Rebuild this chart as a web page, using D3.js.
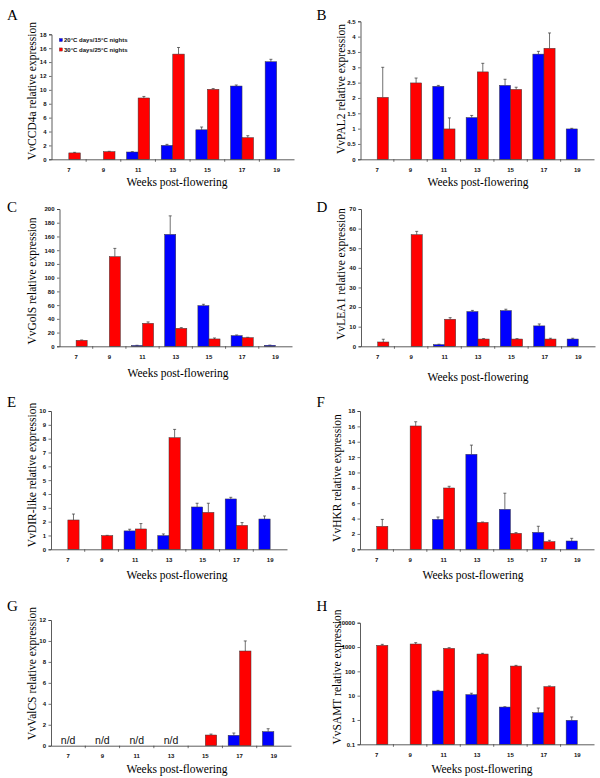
<!DOCTYPE html>
<html>
<head>
<meta charset="utf-8">
<script src="https://cdn.jsdelivr.net/npm/d3@7"></script>
<style>
  html, body { margin: 0; padding: 0; background: #fff; }
  svg { display: block; }
</style>
</head>
<body>
<div id="chart"></div>
<script>
// ---------------- DATA ----------------
const weeks = ["7", "9", "11", "13", "15", "17", "19"];
const seriesNames = ["20°C days/15°C nights", "30°C days/25°C nights"];
const seriesKeys = ["cool", "warm"];

// A: VvCCD4a
const ccd4aCool    = [null, null, 1.05, 2.0, 4.25, 10.55, 14.05];
const ccd4aCoolErr = [0, 0, 0.05, 0.15, 0.4, 0.15, 0.35];
const ccd4aWarm    = [0.92, 1.1, 8.83, 15.15, 10.08, 3.12, null];
const ccd4aWarmErr = [0.08, 0.05, 0.22, 0.95, 0.1, 0.28, 0];
const ccd4aTicks   = [0, 2, 4, 6, 8, 10, 12, 14, 16, 18];

// B: VvPAL2
const pal2Cool    = [null, null, 2.38, 1.36, 2.41, 3.43, 0.99];
const pal2CoolErr = [0, 0, 0.03, 0.07, 0.2, 0.09, 0.02];
const pal2Warm    = [2.02, 2.49, 0.99, 2.85, 2.28, 3.62, null];
const pal2WarmErr = [0.98, 0.16, 0.36, 0.28, 0.07, 0.5, 0];
const pal2Ticks   = [0, 0.5, 1, 1.5, 2, 2.5, 3, 3.5, 4, 4.5];

// C: VvGolS
const golsCool    = [null, null, 1.2, 163, 59.2, 15.5, 1.5];
const golsCoolErr = [0, 0, 0.3, 27, 2, 1, 0.3];
const golsWarm    = [8.7, 130.6, 33.5, 26.2, 10.7, 12.6, null];
const golsWarmErr = [0.5, 12, 2, 1, 1.4, 0.5, 0];
const golsTicks   = [0, 20, 40, 60, 80, 100, 120, 140, 160, 180, 200];

// D: VvLEA1
const lea1Cool    = [null, null, 0.85, 17.7, 18.2, 10.4, 3.7];
const lea1CoolErr = [0, 0, 0.2, 0.6, 0.7, 1.0, 0.4];
const lea1Warm    = [2.2, 56.9, 13.8, 3.7, 3.7, 3.7, null];
const lea1WarmErr = [1.4, 1.7, 0.8, 0.2, 0.2, 0.4, 0];
const lea1Ticks   = [0, 10, 20, 30, 40, 50, 60, 70];

// E: VvDIR-like
const dirCool    = [null, null, 1.33, 0.99, 3.06, 3.64, 2.19];
const dirCoolErr = [0, 0, 0.12, 0.12, 0.27, 0.12, 0.22];
const dirWarm    = [2.12, 0.99, 1.47, 8.07, 2.67, 1.73, null];
const dirWarmErr = [0.43, 0.02, 0.39, 0.6, 0.66, 0.2, 0];
const dirTicks   = [0, 1, 2, 3, 4, 5, 6, 7, 8, 9, 10];

// F: VvHKR
const hkrCool    = [null, null, 3.9, 12.36, 5.2, 2.2, 1.08];
const hkrCoolErr = [0, 0, 0.3, 1.2, 2.1, 0.8, 0.35];
const hkrWarm    = [2.99, 16.05, 7.98, 3.5, 2.08, 1.0, null];
const hkrWarmErr = [0.9, 0.55, 0.22, 0.05, 0.09, 0.17, 0];
const hkrTicks   = [0, 2, 4, 6, 8, 10, 12, 14, 16, 18];

// G: VvValCS
const valcsCool    = [null, null, null, null, null, 0.99, 1.34];
const valcsCoolErr = [0, 0, 0, 0, 0, 0.22, 0.28];
const valcsWarm    = [null, null, null, null, 1.02, 9.04, null];
const valcsWarmErr = [0, 0, 0, 0, 0.09, 0.96, 0];
const valcsTicks   = [0, 2, 4, 6, 8, 10, 12];
const valcsNotDetected = ["7", "9", "11", "13"];

// H: VvSAMT (log scale)
const samtCool    = [null, null, 15.5, 11, 3.4, 2.0, 0.97];
const samtCoolErr = [0, 0, 1, 1.6, 0.1, 1.1, 0.36];
const samtWarm    = [1170, 1330, 880, 515, 165, 23.5, null];
const samtWarmErr = [120, 180, 60, 35, 11, 1.5, 0];
const samtTicks   = [0.1, 1, 10, 100, 1000, 10000];

const panels = [
  { letter: "A", title: "VvCCD4a relative expression", cool: ccd4aCool, coolErr: ccd4aCoolErr, warm: ccd4aWarm, warmErr: ccd4aWarmErr, ticks: ccd4aTicks, legend: true },
  { letter: "B", title: "VvPAL2 relative expression", cool: pal2Cool, coolErr: pal2CoolErr, warm: pal2Warm, warmErr: pal2WarmErr, ticks: pal2Ticks },
  { letter: "C", title: "VvGolS relative expression", cool: golsCool, coolErr: golsCoolErr, warm: golsWarm, warmErr: golsWarmErr, ticks: golsTicks },
  { letter: "D", title: "VvLEA1 relative expression", cool: lea1Cool, coolErr: lea1CoolErr, warm: lea1Warm, warmErr: lea1WarmErr, ticks: lea1Ticks },
  { letter: "E", title: "VvDIR-like relative expression", cool: dirCool, coolErr: dirCoolErr, warm: dirWarm, warmErr: dirWarmErr, ticks: dirTicks },
  { letter: "F", title: "VvHKR relative expression", cool: hkrCool, coolErr: hkrCoolErr, warm: hkrWarm, warmErr: hkrWarmErr, ticks: hkrTicks },
  { letter: "G", title: "VvValCS relative expression", cool: valcsCool, coolErr: valcsCoolErr, warm: valcsWarm, warmErr: valcsWarmErr, ticks: valcsTicks, nd: valcsNotDetected },
  { letter: "H", title: "VvSAMT relative expression", cool: samtCool, coolErr: samtCoolErr, warm: samtWarm, warmErr: samtWarmErr, ticks: samtTicks, log: true }
];

// ---------------- LAYOUT ----------------
const layout = {
  A: { left: 51.5, right: 294, y0: 159.3, yTop: 34.3, letterX: 7, letterY: 20, titleX: 32.3, titleY: 91, xTitleX: 177, xTitleY: 186 },
  B: { left: 360.5, right: 594, y0: 159.3, yTop: 21.3, letterX: 316.5, letterY: 20, titleX: 340.7, titleY: 89, xTitleX: 478, xTitleY: 186 },
  C: { left: 59.5, right: 292, y0: 346.3, yTop: 209, letterX: 7, letterY: 211.7, titleX: 32.3, titleY: 281, xTitleX: 178, xTitleY: 377 },
  D: { left: 361, right: 595, y0: 346.3, yTop: 209, letterX: 316.5, letterY: 211.7, titleX: 340.7, titleY: 274, xTitleX: 478, xTitleY: 381 },
  E: { left: 51, right: 287, y0: 549.3, yTop: 411, letterX: 7, letterY: 406.7, titleX: 32.3, titleY: 475, xTitleX: 177, xTitleY: 579 },
  F: { left: 360, right: 594, y0: 549.3, yTop: 411, letterX: 316.5, letterY: 406.7, titleX: 337.3, titleY: 478, xTitleX: 473, xTitleY: 579 },
  G: { left: 51, right: 291, y0: 745.7, yTop: 620, letterX: 7, letterY: 611, titleX: 32.3, titleY: 673.5, xTitleX: 177, xTitleY: 773 },
  H: { left: 360, right: 594, y0: 744.3, yTop: 622.7, letterX: 316.5, letterY: 611, titleX: 336.7, titleY: 677, xTitleX: 482, xTitleY: 773 }
};

const colors = { cool: "#0000ff", warm: "#ff0000" };
const tickFont = "'Liberation Sans', Arial, sans-serif";
const serifFont = "'Liberation Serif', 'Times New Roman', serif";

// ---------------- DRAW ----------------
const W = 600, H = 778;
const svg = d3.select("#chart").append("svg").attr("width", W).attr("height", H);
svg.append("rect").attr("width", W).attr("height", H).attr("fill", "#fff");

panels.forEach(p => {
  const L = layout[p.letter];
  const g = svg.append("g");

  const x = d3.scaleBand().domain(weeks).range([L.left, L.right]);
  const xs = d3.scaleBand().domain(seriesKeys).range([0, x.bandwidth()]).paddingOuter(0.5);
  const y = p.log
    ? d3.scaleLog().domain([d3.min(p.ticks), d3.max(p.ticks)]).range([L.y0, L.yTop])
    : d3.scaleLinear().domain([0, d3.max(p.ticks)]).range([L.y0, L.yTop]);
  const base = p.log ? d3.min(p.ticks) : 0;

  seriesKeys.forEach(k => {
    const vals = p[k], errs = p[k + "Err"];
    const data = weeks.map((w, i) => ({ w, v: vals[i], e: errs[i] })).filter(d => d.v != null);

    // error bars (upper only)
    const eg = g.append("g").attr("stroke", "#333").attr("stroke-width", 0.7);
    const withErr = data.filter(d => d.e > 0);
    eg.selectAll("line.v").data(withErr).join("line")
      .attr("x1", d => x(d.w) + xs(k) + xs.bandwidth() / 2)
      .attr("x2", d => x(d.w) + xs(k) + xs.bandwidth() / 2)
      .attr("y1", d => y(d.v))
      .attr("y2", d => y(d.v + d.e));
    eg.selectAll("line.c").data(withErr).join("line")
      .attr("x1", d => x(d.w) + xs(k) + xs.bandwidth() / 2 - 1.5)
      .attr("x2", d => x(d.w) + xs(k) + xs.bandwidth() / 2 + 1.5)
      .attr("y1", d => y(d.v + d.e))
      .attr("y2", d => y(d.v + d.e));

    g.append("g").selectAll("rect").data(data).join("rect")
      .attr("x", d => x(d.w) + xs(k))
      .attr("width", xs.bandwidth())
      .attr("y", d => y(d.v))
      .attr("height", d => Math.max(0, y(base) - y(d.v)))
      .attr("fill", colors[k])
      .attr("stroke", "#3a3a3a")
      .attr("stroke-width", 0.5);
  });

  // y axis
  const fmt = p.log ? (d => String(d)) : d3.format("~g");
  const ya = g.append("g").attr("transform", `translate(${L.left},0)`)
    .call(d3.axisLeft(y).tickValues(p.ticks).tickSize(2.5).tickPadding(2.5).tickFormat(fmt));
  ya.select(".domain").attr("stroke", "#333").attr("stroke-width", 0.8);
  ya.selectAll(".tick line").attr("stroke", "#333").attr("stroke-width", 0.7);
  ya.selectAll("text").attr("font-family", tickFont).attr("font-size", 6).attr("font-weight", "bold").attr("fill", "#111");

  // x axis
  const xa = g.append("g").attr("transform", `translate(0,${L.y0})`)
    .call(d3.axisBottom(x).tickSize(0).tickPadding(8));
  xa.select(".domain").attr("stroke", "#333").attr("stroke-width", 0.8);
  xa.selectAll("text").attr("font-family", tickFont).attr("font-size", 6).attr("font-weight", "bold").attr("fill", "#111");
  // category boundary ticks
  g.append("g").selectAll("line").data(weeks.slice(1)).join("line")
    .attr("x1", d => x(d)).attr("x2", d => x(d))
    .attr("y1", L.y0).attr("y2", L.y0 + 2.5)
    .attr("stroke", "#333").attr("stroke-width", 0.7);

  // not detected labels
  if (p.nd) {
    g.append("g").selectAll("text").data(p.nd).join("text")
      .attr("x", d => x(d) + x.bandwidth() / 2)
      .attr("y", L.y0 - 1.5)
      .attr("text-anchor", "middle")
      .attr("font-family", tickFont).attr("font-size", 10.5)
      .attr("fill", "#111")
      .text("n/d");
  }

  // axis titles
  g.append("text")
    .attr("transform", `translate(${L.titleX},${L.titleY}) rotate(-90)`)
    .attr("text-anchor", "middle").attr("dy", "0.35em")
    .attr("font-family", serifFont).attr("font-size", 11.5)
    .text(p.title);
  g.append("text")
    .attr("x", L.xTitleX).attr("y", L.xTitleY)
    .attr("text-anchor", "middle")
    .attr("font-family", serifFont).attr("font-size", 11.5)
    .text("Weeks post-flowering");

  // panel letter
  g.append("text")
    .attr("x", L.letterX).attr("y", L.letterY)
    .attr("font-family", serifFont).attr("font-size", 15)
    .text(p.letter);

  // legend
  if (p.legend) {
    const lg = g.append("g");
    seriesKeys.forEach((k, i) => {
      const cy = 40 + i * 9.5;
      lg.append("rect").attr("x", 59.3).attr("y", cy - 1.6).attr("width", 3.2).attr("height", 3.2)
        .attr("fill", colors[k]).attr("stroke", "#333").attr("stroke-width", 0.3);
      lg.append("text").attr("x", 64).attr("y", cy).attr("dy", "0.35em")
        .attr("font-family", tickFont).attr("font-size", 6).attr("font-weight", "bold").attr("fill", "#111")
        .text(seriesNames[i]);
    });
  }
});
</script>
</body>
</html>
